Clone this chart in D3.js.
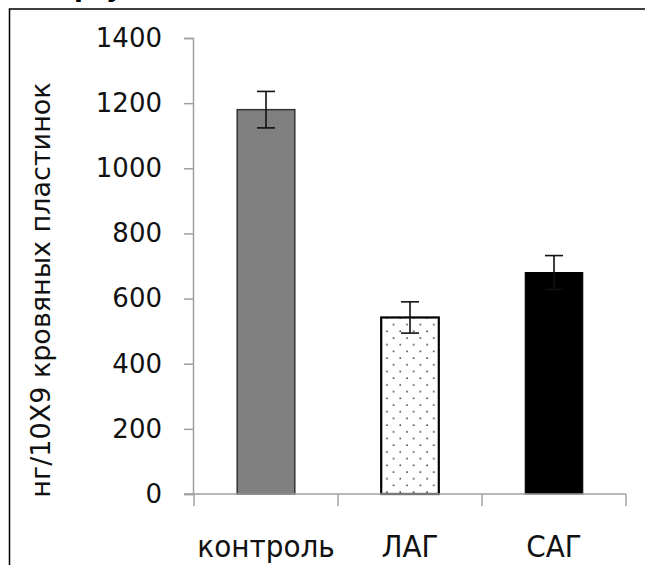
<!DOCTYPE html>
<html><head><meta charset="utf-8">
<script src="https://cdn.jsdelivr.net/npm/d3@7"></script>
<style>body{margin:0;background:#fff}svg{display:block}</style>
</head><body>
<svg id="c" width="645" height="565"></svg>
<script>
const categories = ["контроль", "ЛАГ", "САГ"];
const values = [1180, 542, 680];
const errors = [56, 48, 52];
const yTicks = [0, 200, 400, 600, 800, 1000, 1200, 1400];
const yLabel = "нг/10Х9 кровяных пластинок";

const svg = d3.select("#c");
const defs = svg.append("defs");
const pat = defs.append("pattern").attr("id","dots").attr("patternUnits","userSpaceOnUse")
  .attr("width",13.4).attr("height",13.4).attr("x",2).attr("y",0);
pat.append("rect").attr("width",13.4).attr("height",13.4).attr("fill","#fff");
pat.append("circle").attr("cx",3).attr("cy",3).attr("r",0.8).attr("fill","#222");
pat.append("circle").attr("cx",9.7).attr("cy",9.7).attr("r",0.8).attr("fill","#222");

// frame
svg.append("rect").attr("x",9.5).attr("y",9).attr("width",700).attr("height",600)
  .attr("fill","none").attr("stroke","#000").attr("stroke-width",1.5);
// cut-off title fragments (visible only as descenders in the reference)
svg.append("text").attr("x",74).attr("y",-4.5).attr("font-family","DejaVu Sans").attr("font-weight","bold")
  .attr("font-size",26).text("р");
svg.append("text").attr("x",106).attr("y",-4.5).attr("font-family","DejaVu Sans").attr("font-weight","bold")
  .attr("font-size",26).text("у");

const x = d3.scaleBand().domain(categories).range([194, 626]).paddingInner(0.6).paddingOuter(0.3);
const y = d3.scaleLinear().domain([0, 1400]).range([494, 38]);
const fills = ["#808080", "url(#dots)", "#000"];
const strokes = ["#333", "#000", "#000"];
const sw = [1.5, 2.2, 1];

// y axis
const yAx = svg.append("g").attr("transform","translate(193,0)")
  .call(d3.axisLeft(y).tickValues(yTicks).tickFormat(d3.format("d")).tickSize(9).tickSizeOuter(9).tickPadding(22));
yAx.select(".domain").attr("stroke","#a0a0a0").attr("stroke-width",1.5);
yAx.selectAll(".tick line").attr("stroke","#a0a0a0").attr("stroke-width",1.5);
yAx.selectAll(".tick text").attr("font-family","DejaVu Sans").attr("font-size",26).attr("fill","#111");

// bars
svg.selectAll("rect.bar").data(categories).enter().append("rect").attr("class","bar")
  .attr("x", d => x(d)).attr("width", x.bandwidth())
  .attr("y", (d,i) => y(values[i])).attr("height", (d,i) => y(0) - y(values[i]))
  .attr("fill", (d,i) => fills[i]).attr("stroke", (d,i) => strokes[i]).attr("stroke-width", (d,i) => sw[i]);

// x axis
svg.append("line").attr("x1",184).attr("x2",626).attr("y1",y(0)).attr("y2",y(0))
  .attr("stroke","#a0a0a0").attr("stroke-width",1.5);
const bounds = [194].concat(categories.map(d => x(d) + x.bandwidth()/2 + x.step()/2));
svg.selectAll("line.xt").data(bounds).enter().append("line").attr("class","xt")
  .attr("x1",d=>d).attr("x2",d=>d).attr("y1",y(0)).attr("y2",y(0)+12)
  .attr("stroke","#a0a0a0").attr("stroke-width",1.5);
svg.selectAll("text.xl").data(categories).enter().append("text").attr("class","xl")
  .attr("x", d => x(d) + x.bandwidth()/2).attr("y", 557).attr("text-anchor","middle")
  .attr("font-family","DejaVu Sans Condensed, DejaVu Sans").attr("font-stretch","condensed")
  .attr("font-size",31).attr("fill","#111").text(d => d);

// error bars
const eg = svg.append("g").attr("stroke","#111").attr("stroke-width",1.6);
categories.forEach((c,i) => {
  const cx = x(c) + x.bandwidth()/2;
  eg.append("line").attr("x1",cx).attr("x2",cx).attr("y1",y(values[i]+errors[i])).attr("y2",y(values[i]-errors[i]));
  eg.append("line").attr("x1",cx-9).attr("x2",cx+9).attr("y1",y(values[i]+errors[i])).attr("y2",y(values[i]+errors[i]));
  eg.append("line").attr("x1",cx-9).attr("x2",cx+9).attr("y1",y(values[i]-errors[i])).attr("y2",y(values[i]-errors[i]));
});

// y label
svg.append("text").attr("transform","translate(50,290) rotate(-90)").attr("text-anchor","middle")
  .attr("font-family","DejaVu Sans").attr("font-size",27).attr("fill","#111").text(yLabel);
</script>
</body></html>
